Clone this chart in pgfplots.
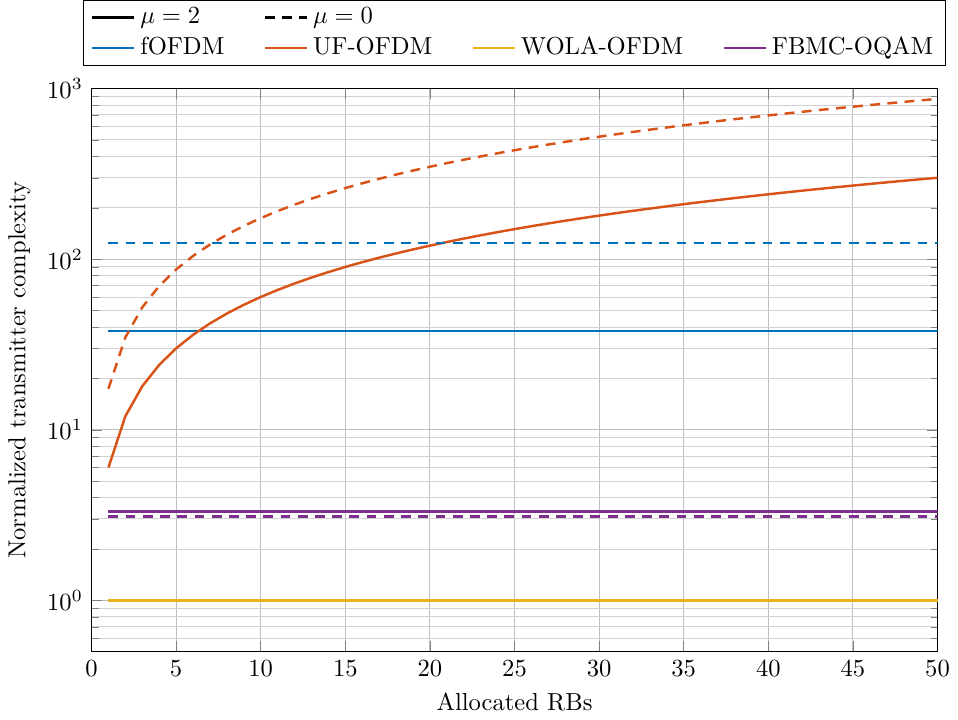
\documentclass[border=0pt]{standalone}
\usepackage{pgfplots}
\pgfplotsset{compat=1.18}
\definecolor{c1}{rgb}{0,0.447,0.741}
\definecolor{c2}{rgb}{0.851,0.325,0.098}
\definecolor{c3}{rgb}{0.929,0.694,0.125}
\definecolor{c4}{rgb}{0.494,0.184,0.556}
\begin{document}
\begin{tikzpicture}
\begin{axis}[
  scale only axis,
  width=344pt, height=229pt,
  xmin=0, xmax=50, ymin=0.5, ymax=1000,
  ymode=log,
  xtick={0,5,...,50},
  grid=both,
  major grid style={gray!50},
  minor grid style={gray!35},
  xlabel={Allocated RBs},
  ylabel={Normalized transmitter complexity},
  legend columns=4,
  legend style={at={(0.5,1)}, yshift=9pt, anchor=south, draw=black, inner ysep=1pt, /tikz/every even column/.append style={column sep=14pt}, font=\normalsize},
  legend cell align=left,
  every axis plot/.append style={line width=1pt},
  dstyle/.style={dash pattern=on 4pt off 3pt},
]
\addlegendimage{black, line width=1pt}\addlegendentry{$\mu=2$}
\addlegendimage{black, line width=1pt, dstyle}\addlegendentry{$\mu=0$}
\addlegendimage{empty legend}\addlegendentry{}
\addlegendimage{empty legend}\addlegendentry{}

\addplot[c1] coordinates {(1,38) (50,38)};\addlegendentry{fOFDM}
\addplot[c2] coordinates {(1,6)(2,12)(3,18)(4,24)(5,30)(6,36)(7,42)(8,48)(9,54)(10,60)(11,66)(12,72)(13,78)(14,84)(15,90)(16,96)(17,102)(18,108)(19,114)(20,120)(21,126)(22,132)(23,138)(24,144)(25,150)(26,156)(27,162)(28,168)(29,174)(30,180)(31,186)(32,192)(33,198)(34,204)(35,210)(36,216)(37,222)(38,228)(39,234)(40,240)(41,246)(42,252)(43,258)(44,264)(45,270)(46,276)(47,282)(48,288)(49,294)(50,300)};\addlegendentry{UF-OFDM}
\addplot[c3] coordinates {(1,1.0) (50,1.0)};\addlegendentry{WOLA-OFDM}
\addplot[c4] coordinates {(1,3.31) (50,3.31)};\addlegendentry{FBMC-OQAM}

\addplot[c1, dstyle, forget plot] coordinates {(1,124) (50,124)};
\addplot[c2, dstyle, forget plot] coordinates {(1,17.4)(2,34.8)(3,52.2)(4,69.6)(5,87)(6,104.4)(7,121.8)(8,139.2)(9,156.6)(10,174)(11,191.4)(12,208.8)(13,226.2)(14,243.6)(15,261)(16,278.4)(17,295.8)(18,313.2)(19,330.6)(20,348)(21,365.4)(22,382.8)(23,400.2)(24,417.6)(25,435)(26,452.4)(27,469.8)(28,487.2)(29,504.6)(30,522)(31,539.4)(32,556.8)(33,574.2)(34,591.6)(35,609)(36,626.4)(37,643.8)(38,661.2)(39,678.6)(40,696)(41,713.4)(42,730.8)(43,748.2)(44,765.6)(45,783)(46,800.4)(47,817.8)(48,835.2)(49,852.6)(50,870)};
\addplot[c3, dstyle, forget plot] coordinates {(1,1.0) (50,1.0)};
\addplot[c4, dstyle, forget plot] coordinates {(1,3.10) (50,3.10)};
\addplot[c3, forget plot] coordinates {(1,1.0) (50,1.0)};
\end{axis}
\end{tikzpicture}
\end{document}
